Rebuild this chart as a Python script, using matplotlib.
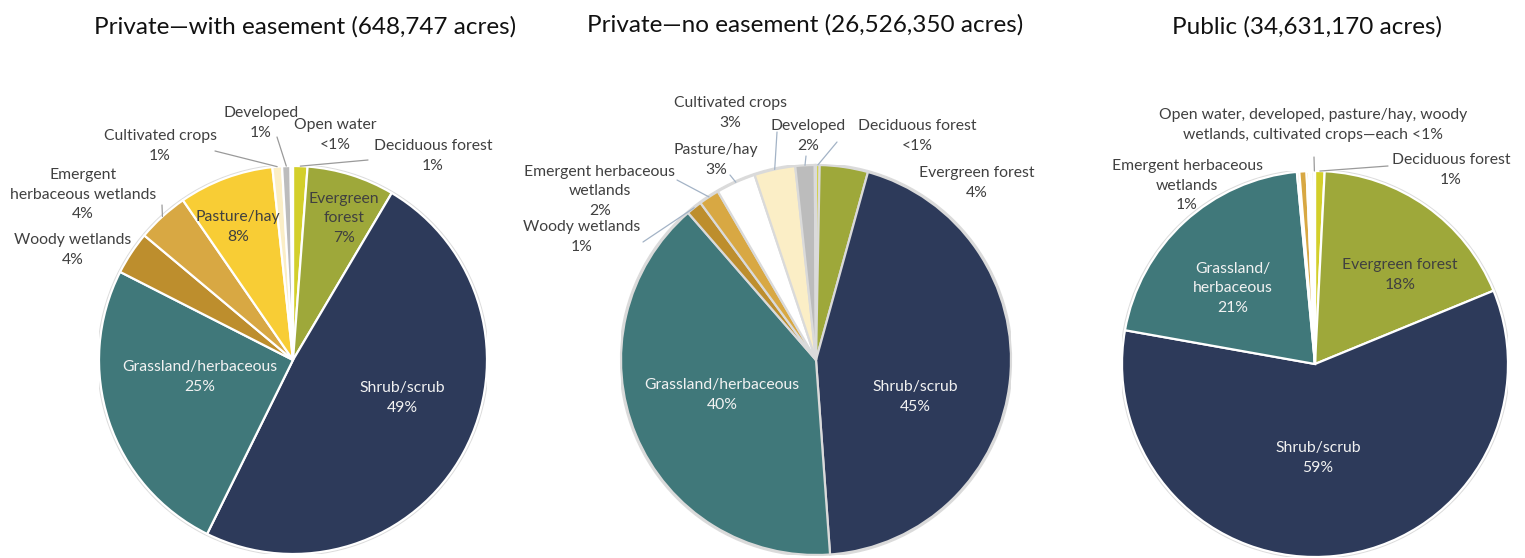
import matplotlib

matplotlib.use("Agg")
import numpy as np
from matplotlib import pyplot as plt
from matplotlib.patches import Circle

plt.rcParams["font.family"] = ["Lato", "DejaVu Sans"]

W, H = 1525, 558

categories = [
    "Deciduous forest", "Evergreen forest", "Shrub/scrub", "Grassland/herbaceous",
    "Woody wetlands", "Emergent herbaceous wetlands", "Pasture/hay",
    "Cultivated crops", "Developed", "Open water",
]
titles = [
    "Private\u2014with easement (648,747 acres)",
    "Private\u2014no easement (26,526,350 acres)",
    "Public (34,631,170 acres)",
]
# percent of acres, clockwise from 12 o'clock
easement_pct = [1.2, 7.3, 48.8, 25.2, 3.6, 4.3, 7.9, 0.8, 0.7, 0.2]
no_easement_pct = [0.3, 4.0, 44.6, 39.8, 1.3, 1.7, 3.3, 3.4, 1.6, 0.1]
public_pct = [0.8, 18.0, 59.0, 20.7, 0.2, 0.6, 0.2, 0.2, 0.2, 0.1]
public_small_note = "Open water, developed, pasture/hay, woody\nwetlands, cultivated crops\u2014each <1%"

base_colors = ["#d3cf2b", "#9ea83a", "#2d3a5a", "#40787a", "#bd8e2d",
               "#d8a843", "#f8cd35", "#fbeec6", "#bcbcbc", "#f4f4f4"]
no_eas_colors = list(base_colors)
no_eas_colors[6] = "#ffffff"

DARK = "#404040"
LIGHT = "#f2f2f2"
FS = 11.3
LS = 1.5


def pct_text(p):
    return "<1%" if p < 0.5 else f"{round(p)}%"


def fxy(px, py):
    return px / W, 1 - py / H


# label layout: idx -> (name as wrapped, text centre px, colour, leader start px)
layouts = [
    {
        0: ("Deciduous forest", (433, 156), DARK, (368, 160)),
        1: ("Evergreen\nforest", (344, 218), DARK, None),
        2: ("Shrub/scrub", (402, 398), LIGHT, None),
        3: ("Grassland/herbaceous", (200, 377), LIGHT, None),
        4: ("Woody wetlands", (73, 250), DARK, None),
        5: ("Emergent\nherbaceous wetlands", (83, 195), DARK, (162, 205)),
        6: ("Pasture/hay", (238, 227), DARK, None),
        7: ("Cultivated crops", (160, 146), DARK, (215, 151)),
        8: ("Developed", (261, 123), DARK, (277, 137)),
        9: ("Open water", (335, 135), DARK, None),
    },
    {
        0: ("Deciduous forest", (917, 136), DARK, (837, 142)),
        1: ("Evergreen forest", (977, 183), DARK, None),
        2: ("Shrub/scrub", (915, 397), LIGHT, None),
        3: ("Grassland/herbaceous", (722, 395), LIGHT, None),
        4: ("Woody wetlands", (582, 237), DARK, (643, 242)),
        5: ("Emergent herbaceous\nwetlands", (600, 191), DARK, (677, 180)),
        6: ("Pasture/hay", (716, 160), DARK, (730, 175)),
        7: ("Cultivated crops", (730, 113), DARK, (777, 132)),
        8: ("Developed", (808, 136), DARK, (806, 156)),
    },
    {
        0: ("Deciduous forest", (1451, 170), DARK, (1388, 166)),
        1: ("Evergreen forest", (1400, 275), DARK, None),
        2: ("Shrub/scrub", (1318, 458), LIGHT, None),
        3: ("Grassland/\nherbaceous", (1233, 288), LIGHT, None),
        5: ("Emergent herbaceous\nwetlands", (1187, 186), DARK, None),
    },
]

pies = [
    (easement_pct, base_colors, (293, 360), 194, "white", "#9a9a9a", (305, 27)),
    (no_easement_pct, no_eas_colors, (816, 360), 195, "#dadada", "#a3b3c6", (805, 25)),
    (public_pct, base_colors, (1315, 364), 193, "white", "#9a9a9a", (1307, 27)),
]

fig = plt.figure(figsize=(W / 100, H / 100), dpi=100)

for k, (vals, cols, (cx, cy), r, edge, lead_col, tpos) in enumerate(pies):
    ax = fig.add_axes([(cx - r) / W, 1 - (cy + r) / H, 2 * r / W, 2 * r / H])
    ax.add_patch(Circle((0, 0), 1.0, fill=False, ec="#dcdcdc", lw=3, zorder=0))
    wedges, _ = ax.pie(vals, colors=cols, startangle=90, counterclock=False,
                       radius=1, wedgeprops=dict(edgecolor=edge, linewidth=1.6))
    ax.set_xlim(-1, 1)
    ax.set_ylim(-1, 1)
    ax.axis("off")

    fig.text(*fxy(*tpos), titles[k], ha="center", va="center",
             fontsize=17.5, color="#111111")

    for idx, (name, (tx, ty), col, lead) in layouts[k].items():
        fig.text(*fxy(tx, ty), f"{name}\n{pct_text(vals[idx])}", ha="center",
                 va="center", fontsize=FS, color=col, linespacing=LS)
        if lead is not None:
            w = wedges[idx]
            th = np.deg2rad((w.theta1 + w.theta2) / 2)
            ax.annotate("", xy=(np.cos(th), np.sin(th)), xycoords="data",
                        xytext=fxy(*lead), textcoords="figure fraction",
                        arrowprops=dict(arrowstyle="-", color=lead_col, lw=0.9,
                                        shrinkA=0, shrinkB=0),
                        annotation_clip=False)

    if k == 2:
        fig.text(*fxy(1313, 125), public_small_note, ha="center", va="center",
                 fontsize=FS, color=DARK, linespacing=LS)
        w = wedges[9]
        th = np.deg2rad((w.theta1 + w.theta2) / 2)
        ax.annotate("", xy=(np.cos(th), np.sin(th)), xycoords="data",
                    xytext=fxy(1314, 157), textcoords="figure fraction",
                    arrowprops=dict(arrowstyle="-", color=lead_col, lw=0.9,
                                    shrinkA=0, shrinkB=0),
                    annotation_clip=False)

fig.savefig("out.png", dpi=100)
